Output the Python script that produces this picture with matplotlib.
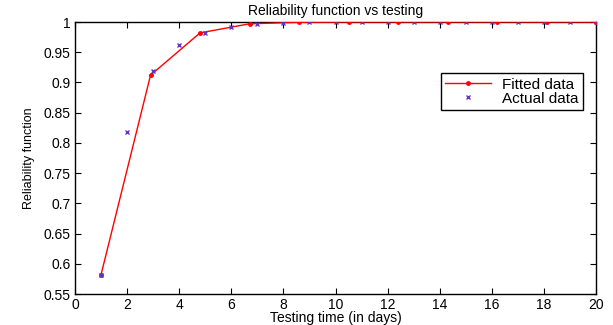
import matplotlib
matplotlib.use("Agg")
import matplotlib.pyplot as plt

plt.rcParams['font.family'] = ['Liberation Sans', 'DejaVu Sans']

fitted_x = [1, 2.9, 4.8, 6.7, 8.6, 10.5, 12.4, 14.3, 16.2, 18.1, 20]
fitted_y = [0.582, 0.912, 0.982, 0.997, 0.9995, 1.0, 1.0, 1.0, 1.0, 1.0, 1.0]
actual_x = [1, 2, 3, 4, 5, 6, 7, 8, 9, 10, 11, 12, 13, 14, 15, 16, 17, 18, 19, 20]
actual_y = [0.582, 0.818, 0.919, 0.962, 0.982, 0.992, 0.997, 0.999, 1.0, 1.0,
            1.0, 1.0, 1.0, 1.0, 1.0, 1.0, 1.0, 1.0, 1.0, 1.0]
xticks = [0, 2, 4, 6, 8, 10, 12, 14, 16, 18, 20]
yticks = [0.55, 0.6, 0.65, 0.7, 0.75, 0.8, 0.85, 0.9, 0.95, 1]
yticklabels = ['0.55', '0.6', '0.65', '0.7', '0.75', '0.8', '0.85', '0.9', '0.95', '1']

fig = plt.figure(figsize=(6.13, 3.25), dpi=100)
ax = fig.add_axes([75/613, 1 - 294/325, (596-75)/613, (294-22)/325])

ax.plot(fitted_x, fitted_y, color='red', lw=1.0, marker='o', ms=2.5,
        label='Fitted data', zorder=3)
ax.plot(actual_x, actual_y, ls='none', marker='x', ms=3.5, mew=1.0,
        color='#6a2fc8', label='Actual data', zorder=4)

ax.set_xlim(0, 20)
ax.set_ylim(0.55, 1.0)
ax.set_xticks(xticks)
ax.set_yticks(yticks)
ax.set_yticklabels(yticklabels)
ax.tick_params(direction='in', top=True, right=True, length=4, width=0.8,
               labelsize=10, pad=3)
for s in ax.spines.values():
    s.set_linewidth(1.0)

ax.set_title('Reliability function vs testing', fontsize=10, pad=5)
ax.set_xlabel('Testing time (in days)', fontsize=10, labelpad=-1)
ax.set_ylabel('Reliability function', fontsize=9, labelpad=6)

leg = ax.legend(loc='upper right', bbox_to_anchor=(583/613, 1 - 73/325),
                bbox_transform=fig.transFigure, fancybox=False, edgecolor='black',
                framealpha=1, fontsize=11, borderpad=0.3, labelspacing=0.0,
                handlelength=3.0, handletextpad=0.7, borderaxespad=0)
leg.get_frame().set_linewidth(1.0)

fig.savefig('out.png', dpi=100)
